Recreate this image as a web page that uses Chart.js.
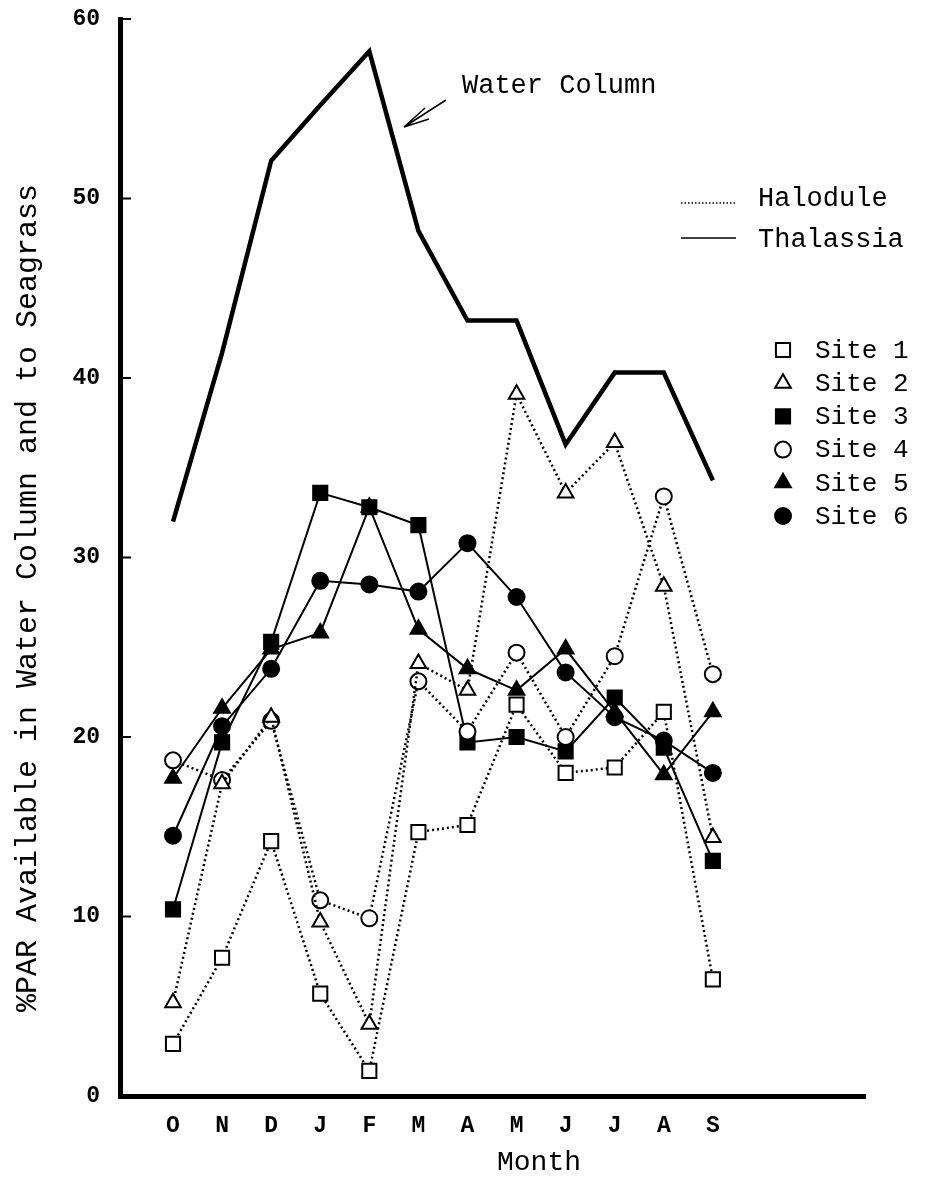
<!DOCTYPE html>
<html>
<head>
<meta charset="utf-8">
<script src="https://cdn.jsdelivr.net/npm/chart.js@4.4.0/dist/chart.umd.min.js"></script>
<style>
  html, body { margin: 0; padding: 0; background: #fff; }
  #wrap { width: 935px; height: 1190px; }
</style>
</head>
<body>
<div id="wrap"><canvas id="chart" width="935" height="1190"></canvas></div>
<script>
// month categories (Oct .. Sep)
const months = ['O', 'N', 'D', 'J', 'F', 'M', 'A', 'M', 'J', 'J', 'A', 'S'];
const yTicks = [0, 10, 20, 30, 40, 50, 60];

// %PAR values
const waterColumn = [32.0, 41.4, 52.1, 55.2, 58.2, 48.2, 43.2, 43.2, 36.3, 40.3, 40.3, 34.3];
const site1 = [2.9, 7.7, 14.2, 5.7, 1.4, 14.7, 15.1, 21.8, 18.0, 18.3, 21.4, 6.5];
const site2 = [5.2, 17.4, 21.1, 9.7, 4.0, 24.1, 22.6, 39.1, 33.6, 36.4, 28.4, 14.4];
const site3 = [10.4, 19.7, 25.3, 33.6, 32.8, 31.8, 19.7, 20.0, 19.2, 22.2, 19.4, 13.1];
const site4 = [18.7, 17.6, 20.9, 10.9, 9.9, 23.1, 20.3, 24.7, 20.0, 24.5, 33.4, 23.5];
const site5 = [17.7, 21.6, 24.9, 25.8, 32.8, 26.0, 23.8, 22.6, 24.9, 21.4, 17.9, 21.4];
const site6 = [14.5, 20.6, 23.8, 28.7, 28.5, 28.1, 30.8, 27.8, 23.6, 21.1, 19.8, 18.0];

const FONT = '"Liberation Mono", "DejaVu Sans Mono", monospace';

function pts(arr) {
  return arr.map((v, i) => ({ x: i, y: v }));
}

// Halodule sites are dotted with open markers, Thalassia sites solid with filled ones
function site(label, arr, style, filled, radius) {
  return {
    label: label,
    data: pts(arr),
    borderColor: '#000',
    borderWidth: filled ? 2 : 2.5,
    borderDash: filled ? [] : [2, 3],
    pointStyle: style,
    pointRadius: radius,
    pointBorderWidth: 2,
    pointBorderColor: '#000',
    pointBackgroundColor: filled ? '#000' : '#fff',
    tension: 0,
    fill: false
  };
}

const legendItems = [
  { label: 'Site 1', style: 'rect', filled: false, r: 10 },
  { label: 'Site 2', style: 'triangle', filled: false, r: 9 },
  { label: 'Site 3', style: 'rect', filled: true, r: 10 },
  { label: 'Site 4', style: 'circle', filled: false, r: 8 },
  { label: 'Site 5', style: 'triangle', filled: true, r: 9 },
  { label: 'Site 6', style: 'circle', filled: true, r: 8 }
];

const decor = {
  id: 'decor',
  afterDraw(chart) {
    const ctx = chart.ctx;
    const y = chart.scales.y;
    const area = chart.chartArea;
    ctx.save();
    ctx.fillStyle = '#000';
    ctx.strokeStyle = '#000';

    // inward ticks on the y axis
    ctx.lineWidth = 2;
    yTicks.forEach(v => {
      const py = y.getPixelForValue(v);
      ctx.beginPath();
      ctx.moveTo(area.left, py);
      ctx.lineTo(area.left + 11, py);
      ctx.stroke();
    });

    // axis titles
    ctx.font = '30px ' + FONT;
    ctx.textAlign = 'center';
    ctx.textBaseline = 'middle';
    ctx.save();
    ctx.translate(28, 598);
    ctx.rotate(-Math.PI / 2);
    ctx.fillText('%PAR Available in Water Column and to Seagrass', 0, 0);
    ctx.restore();
    ctx.font = '28px ' + FONT;
    ctx.fillText('Month', 539, 1163);

    // water column label + arrow
    ctx.textAlign = 'left';
    ctx.font = '27px ' + FONT;
    ctx.fillText('Water Column', 462, 86);
    ctx.lineWidth = 1.5;
    ctx.beginPath();
    ctx.moveTo(446, 100);
    ctx.lineTo(404, 127);
    ctx.moveTo(404, 127);
    ctx.lineTo(425, 108);
    ctx.moveTo(404, 127);
    ctx.lineTo(429, 119);
    ctx.stroke();

    // line style legend
    ctx.lineWidth = 1.5;
    ctx.setLineDash([1.5, 2]);
    ctx.beginPath();
    ctx.moveTo(681, 203);
    ctx.lineTo(736, 203);
    ctx.stroke();
    ctx.setLineDash([]);
    ctx.beginPath();
    ctx.moveTo(681, 238);
    ctx.lineTo(736, 238);
    ctx.stroke();
    ctx.fillText('Halodule', 758, 199);
    ctx.fillText('Thalassia', 758, 240);

    // site legend
    ctx.font = '26px ' + FONT;
    legendItems.forEach((it, i) => {
      const cy = 350 + 33.2 * i;
      ctx.lineWidth = 2;
      ctx.fillStyle = it.filled ? '#000' : '#fff';
      Chart.helpers.drawPoint(ctx, {
        pointStyle: it.style, radius: it.r, rotation: 0, borderWidth: 2
      }, 783, cy);
      ctx.fillStyle = '#000';
      ctx.fillText(it.label, 815, cy + 1);
    });
    ctx.restore();
  }
};

new Chart(document.getElementById('chart'), {
  type: 'line',
  data: {
    datasets: [
      {
        label: 'Water Column',
        data: pts(waterColumn),
        borderColor: '#000',
        borderWidth: 4.5,
        pointRadius: 0,
        tension: 0,
        fill: false
      },
      site('Site 1', site1, 'rect', false, 10),
      site('Site 2', site2, 'triangle', false, 9),
      site('Site 4', site4, 'circle', false, 8),
      site('Site 3', site3, 'rect', true, 10),
      site('Site 5', site5, 'triangle', true, 9),
      site('Site 6', site6, 'circle', true, 8)
    ]
  },
  options: {
    responsive: false,
    animation: false,
    devicePixelRatio: 1,
    layout: { padding: { top: 19, right: 70, bottom: 0, left: 0 } },
    plugins: {
      legend: { display: false },
      tooltip: { enabled: false }
    },
    scales: {
      x: {
        type: 'linear',
        min: -1.08,
        max: 14.1,
        afterFit(scale) {
          scale.height = 94;
          scale.paddingLeft = 0;
          scale.paddingRight = 0;
        },
        afterBuildTicks(scale) {
          scale.ticks = months.map((m, i) => ({ value: i }));
        },
        grid: { display: false, drawTicks: false },
        border: { display: true, color: '#000', width: 5 },
        ticks: {
          padding: 16,
          color: '#000',
          font: { family: FONT, size: 23, weight: 'bold' },
          callback: (v) => months[v] || ''
        }
      },
      y: {
        min: 0,
        max: 60,
        afterFit(scale) {
          scale.width = 120;
          scale.paddingTop = 0;
          scale.paddingBottom = 0;
        },
        afterBuildTicks(scale) {
          scale.ticks = yTicks.map(v => ({ value: v }));
        },
        grid: { display: false, drawTicks: false },
        border: { display: true, color: '#000', width: 5 },
        ticks: {
          padding: 20,
          color: '#000',
          font: { family: FONT, size: 23, weight: 'bold' }
        }
      }
    }
  },
  plugins: [decor]
});
</script>
</body>
</html>
